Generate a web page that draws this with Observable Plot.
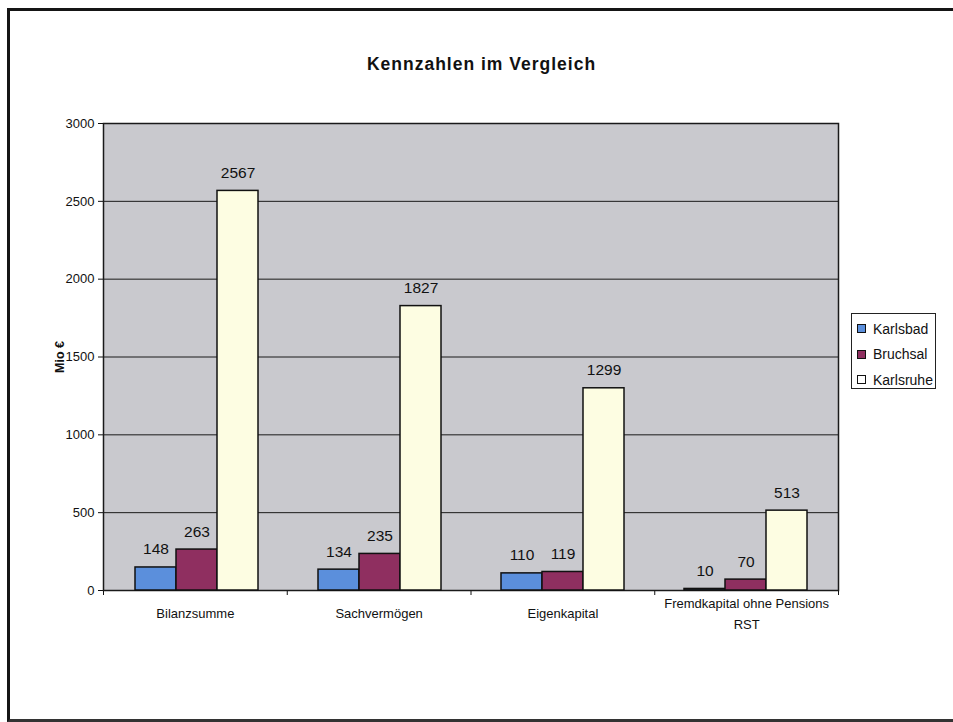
<!DOCTYPE html>
<html>
<head>
<meta charset="utf-8">
<script src="https://cdn.jsdelivr.net/npm/d3@7"></script>
<script src="https://cdn.jsdelivr.net/npm/@observablehq/plot@0.6"></script>
<style>
  html, body { margin: 0; padding: 0; background: #fff; overflow: hidden; }
  #wrap { position: relative; width: 953px; height: 722px; overflow: hidden; font-family: "Liberation Sans", Arial, sans-serif; }
  #wrap svg { position: absolute; left: 0; top: 0; }
  #border { position: absolute; left: 7px; top: 8px; width: 1100px; height: 708px; border-left: 3px solid #151515; border-top: 3px solid #151515; border-bottom: 3px solid #333; }
  #title { position: absolute; left: 5px; width: 953px; top: 54px; text-align: center; font-weight: bold; font-size: 17.5px; color: #111; letter-spacing: 1px; }
  #legend { position: absolute; left: 851px; top: 313px; width: 85px; height: 76px; border: 1px solid #222; background: #fff; box-sizing: border-box; padding: 2px 0 0 5px; }
  .li { height: 25.5px; display: flex; align-items: center; font-size: 14px; color: #111; }
  .sw { width: 7px; height: 7px; border: 1px solid #111; margin-right: 7px; }
</style>
</head>
<body>
<div id="wrap">
  <div id="border"></div>
  <div id="title">Kennzahlen im Vergleich</div>
  <div id="legend"></div>
</div>
<script>
const categories = ["Bilanzsumme", "Sachvermögen", "Eigenkapital", "Fremdkapital ohne Pensions\nRST"];
const series = ["Karlsbad", "Bruchsal", "Karlsruhe"];
const karlsbad = [148, 134, 110, 10];
const bruchsal = [263, 235, 119, 70];
const karlsruhe = [2567, 1827, 1299, 513];
const yTicks = [0, 500, 1000, 1500, 2000, 2500, 3000];
const yLabel = "Mio €";
const colors = ["#5b8fdc", "#8f2f60", "#fdfde2"];

const values = [karlsbad, bruchsal, karlsruhe];
const data = [];
categories.forEach((c, i) => series.forEach((s, j) => data.push({cat: c, series: s, value: values[j][i]})));

const W = 953, H = 722;
const margins = {marginLeft: 103, marginRight: 115, marginTop: 123, marginBottom: 132};
const font = "Liberation Sans, Arial, sans-serif";

const bg = Plot.plot({
  width: W, height: H, ...margins,
  style: {fontFamily: font, fontSize: "13px", color: "#111", background: "transparent"},
  x: {domain: [0, categories.length], ticks: d3.range(categories.length + 1), tickFormat: () => "", tickSize: 5, label: null},
  y: {domain: [0, 3000], ticks: yTicks, tickFormat: d => String(d), tickSize: 5, tickPadding: 4, label: null},
  marks: [
    Plot.frame({fill: "#c9c9ce"}),
    Plot.ruleY(yTicks, {stroke: "#1a1a1a", strokeWidth: 1}),
    Plot.frame({stroke: "#1a1a1a", strokeWidth: 1.5}),
    Plot.text(categories, {x: (d, i) => i + 0.5, y: 0, dy: 21, text: d => d, lineHeight: 1.62, fontSize: 13, fill: "#111"}),
    Plot.text([yLabel], {frameAnchor: "left", textAnchor: "middle", text: d => d, rotate: -90, dx: -44, fontSize: 12.5, fontWeight: "bold", fill: "#111"})
  ]
});
document.getElementById("wrap").appendChild(bg);

const bars = Plot.plot({
  width: W, height: H, ...margins,
  style: {fontFamily: font, background: "transparent"},
  fx: {domain: categories, padding: 0, axis: null},
  x: {domain: series, paddingInner: 0, paddingOuter: 0.725, axis: null},
  y: {domain: [0, 3000], axis: null},
  color: {domain: series, range: colors},
  facet: {data: data, x: "cat"},
  marks: [
    Plot.barY(data, {x: "series", y: "value", fill: "series", stroke: "#111", strokeWidth: 1.5}),
    Plot.text(data, {x: "series", y: "value", text: d => String(d.value), dy: -18, fontSize: 15.5, fill: "#111"})
  ]
});
document.getElementById("wrap").appendChild(bars);

const leg = document.getElementById("legend");
series.forEach((s, j) => {
  const row = document.createElement("div");
  row.className = "li";
  const sw = document.createElement("span");
  sw.className = "sw";
  sw.style.background = j === 2 ? "#fff" : colors[j];
  row.appendChild(sw);
  row.appendChild(document.createTextNode(s));
  leg.appendChild(row);
});
</script>
</body>
</html>
